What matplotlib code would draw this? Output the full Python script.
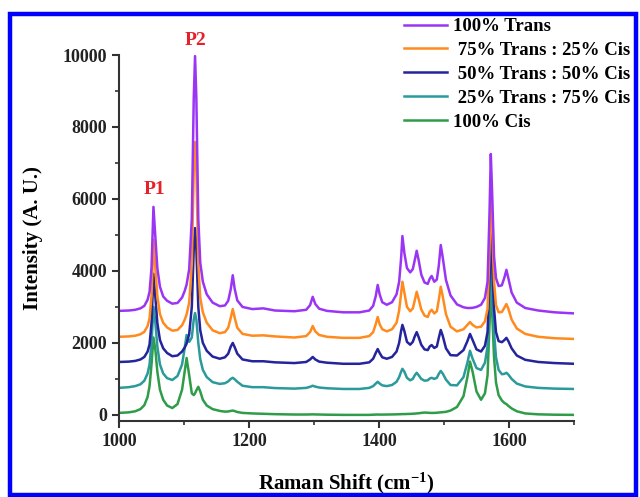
import numpy as np
import matplotlib.pyplot as plt
from matplotlib.patches import Rectangle
from matplotlib.ticker import MultipleLocator

# raman shift grid (cm-1)
shift = [1000, 1015, 1025, 1033, 1039, 1044, 1047, 1050, 1053, 1056,
         1059, 1063, 1068, 1074, 1082, 1090, 1097, 1101, 1104, 1108,
         1112, 1115, 1117, 1119, 1122, 1125, 1129, 1135, 1144, 1155,
         1163, 1168, 1172, 1175, 1178, 1182, 1190, 1205, 1222, 1240,
         1270, 1288, 1294, 1298, 1302, 1308, 1320, 1345, 1370, 1385,
         1391, 1395, 1398, 1401, 1405, 1412, 1420, 1427, 1431, 1434,
         1436, 1439, 1443, 1448, 1452, 1455, 1458, 1461, 1465, 1470,
         1475, 1478, 1481, 1485, 1489, 1492, 1495, 1498, 1503, 1510,
         1520, 1530, 1536, 1540, 1544, 1550, 1557, 1563, 1567, 1570,
         1572, 1574, 1577, 1580, 1584, 1589, 1593, 1596, 1599, 1604,
         1612, 1625, 1645, 1670, 1700]

trans100 = [2890, 2900, 2920, 2960, 3030, 3200, 3420, 4080, 5780, 4920,
            4080, 3560, 3290, 3170, 3090, 3110, 3260, 3440, 3620, 4050,
            5450, 8800, 9970, 8800, 5450, 4230, 3700, 3350, 3120, 3020,
            3040, 3170, 3500, 3880, 3500, 3180, 3000, 2940, 2960, 2900,
            2880, 2920, 3050, 3280, 3080, 2950, 2890, 2850, 2850, 2900,
            3030, 3300, 3610, 3350, 3130, 3060, 3130, 3350, 3700, 4350,
            4970, 4500, 4080, 3960, 4050, 4300, 4560, 4300, 3900, 3680,
            3640, 3780, 3860, 3700, 3760, 4150, 4720, 4380, 3750, 3320,
            3070, 2990, 2970, 2970, 2975, 3000, 3060, 3250, 3700, 5600,
            7250, 6200, 4400, 3800, 3580, 3600, 3820, 4030, 3800, 3400,
            3120, 2970, 2900, 2850, 2820]

trans75 = [2170, 2180, 2200, 2240, 2310, 2470, 2680, 3300, 4860, 4050,
           3300, 2800, 2560, 2430, 2340, 2360, 2490, 2640, 2790, 3120,
           4200, 6800, 7580, 6800, 4200, 3250, 2850, 2560, 2350, 2270,
           2300, 2420, 2700, 2940, 2700, 2420, 2250, 2200, 2210, 2180,
           2150, 2190, 2300, 2470, 2320, 2220, 2170, 2140, 2140, 2190,
           2300, 2520, 2720, 2520, 2380, 2320, 2380, 2560, 2900, 3380,
           3700, 3400, 3000, 2880, 2960, 3180, 3420, 3220, 2930, 2760,
           2720, 2860, 2920, 2820, 2880, 3200, 3560, 3300, 2800, 2450,
           2320, 2380, 2500, 2580, 2500, 2430, 2450, 2600, 2950, 4600,
           6200, 5300, 3700, 3050, 2850, 2860, 2980, 3080, 2950, 2650,
           2400, 2250, 2170, 2130, 2110]

trans50 = [1470, 1480, 1500, 1540, 1610, 1760, 1960, 2550, 3920, 3250,
           2550, 2080, 1850, 1720, 1630, 1650, 1760, 1870, 1980, 2250,
           3000, 4600, 5190, 4600, 3000, 2350, 2000, 1780, 1620, 1560,
           1600, 1700, 1900, 2000, 1880, 1700, 1540, 1490, 1490, 1460,
           1440, 1470, 1540, 1610, 1540, 1480, 1450, 1420, 1420, 1460,
           1560, 1720, 1830, 1720, 1600, 1560, 1610, 1760, 2000, 2330,
           2500, 2330, 2030, 1950, 2030, 2180, 2300, 2160, 1950, 1820,
           1800, 1900, 1940, 1860, 1900, 2140, 2360, 2200, 1850, 1660,
           1650, 1800, 2050, 2250, 2080, 1820, 1760, 1920, 2300, 3800,
           5050, 4300, 2950, 2300, 2050, 2020, 2080, 2140, 2050, 1850,
           1650, 1530, 1470, 1440, 1420]

trans25 = [750, 770, 800, 850, 950, 1150, 1400, 2000, 3000, 2550,
           1900, 1400, 1150, 1020, 970, 1080, 1400, 1850, 2220, 2030,
           2150, 2650, 2830, 2650, 2000, 1550, 1250, 1050, 910, 860,
           880, 930, 1000, 1030, 990, 920, 810, 770, 770, 745,
           730, 750, 780, 810, 785, 760, 740, 720, 720, 750,
           800, 870, 920, 870, 820, 800, 830, 920, 1050, 1200,
           1280, 1200, 1030, 960, 1000, 1100, 1170, 1100, 1000, 950,
           960, 1010, 1030, 1000, 1030, 1140, 1220, 1150, 980, 830,
           820, 1050, 1450, 1780, 1560, 1300, 1250, 1450, 1900, 3200,
           4100, 3500, 2300, 1600, 1250, 1130, 1140, 1170, 1120, 1000,
           870, 790, 750, 730, 720]

cis100 = [55, 70, 100, 160, 270, 500, 800, 1400, 2150, 1800,
          1200, 700, 420, 260, 190, 300, 700, 1200, 1580, 1100,
          600, 550, 600, 680, 780, 650, 420, 260, 160, 110,
          90, 95, 110, 120, 105, 80, 55, 40, 30, 20,
          10, 10, 12, 15, 12, 10, 5, 0, 0, 0,
          5, 8, 10, 8, 8, 10, 12, 15, 18, 20,
          22, 22, 25, 28, 32, 35, 40, 45, 55, 65,
          60, 55, 55, 55, 60, 65, 70, 75, 85, 120,
          220, 520, 1050, 1480, 1200, 650, 420, 600, 1100, 2500,
          3500, 2900, 1600, 900, 550, 400, 330, 300, 250, 180,
          100, 40, 15, 5, 0]

series = [trans100, trans75, trans50, trans25, cis100]
labels = ["100% Trans", " 75% Trans : 25% Cis", " 50% Trans : 50% Cis",
          " 25% Trans : 75% Cis", "100% Cis"]
colors = ["#9B35F5", "#FF8A1E", "#24249C", "#2A9A9A", "#2E9C48"]

plt.rcParams['font.family'] = ['Liberation Serif', 'DejaVu Serif']
plt.rcParams['font.weight'] = 'bold'
plt.rcParams['mathtext.fontset'] = 'custom'
plt.rcParams['mathtext.rm'] = 'Liberation Serif:bold'
plt.rcParams['mathtext.bf'] = 'Liberation Serif:bold'
plt.rcParams['mathtext.it'] = 'Liberation Serif:bold:italic'

fig = plt.figure(figsize=(6.4, 4.97), dpi=100)
ax = fig.add_axes([119/640, 1-421/497, 455/640, 366/497])

# bottom trace first so the upper ones sit on top
for y, lab, c in reversed(list(zip(series, labels, colors))):
    ax.plot(shift, y, color=c, lw=1.8, label=lab)

ax.set_xlim(1000, 1700)
ax.set_ylim(-170, 10000)
ax.xaxis.set_major_locator(MultipleLocator(200))
ax.xaxis.set_minor_locator(MultipleLocator(100))
ax.yaxis.set_major_locator(MultipleLocator(2000))
ax.yaxis.set_minor_locator(MultipleLocator(1000))
ax.spines['top'].set_visible(False)
ax.spines['right'].set_visible(False)
for s in ['left', 'bottom']:
    ax.spines[s].set_linewidth(1.5)
    ax.spines[s].set_color('#333333')
ax.tick_params(which='major', length=5, width=1.5, labelsize=13, direction='out', colors='#333333')
ax.tick_params(which='minor', length=3, width=1.2, direction='out', colors='#333333')
for t in ax.get_xticklabels() + ax.get_yticklabels():
    t.set_fontweight('bold')
    t.set_color('#222222')

ax.set_xlabel("Raman Shift (cm$^{\\mathbf{-1}}$)", fontsize=15, fontweight='bold', labelpad=15)
ax.set_ylabel("Intensity (A. U.)", fontsize=15, fontweight='bold', labelpad=14)

ax.text(1055, 6250, "P1", color='#E8202A', fontsize=14, fontweight='bold', ha='center', va='center')
ax.text(1117, 10400, "P2", color='#E8202A', fontsize=14, fontweight='bold', ha='center', va='center',
        clip_on=False)

h, l = ax.get_legend_handles_labels()
fig.legend(h[::-1], l[::-1], loc='upper left', bbox_to_anchor=(404/640, 1-18/497),
           frameon=False, handlelength=2.3, handletextpad=0.3,
           labelspacing=0.36, borderpad=0, borderaxespad=0,
           prop={'weight': 'bold', 'size': 13.5})

# blue frame round the whole picture
fig.patches.append(Rectangle((10/640, 2/497), 626/640, 481/497, transform=fig.transFigure,
                             fill=False, edgecolor='#0000FF', lw=3.2))

fig.savefig("out.png", dpi=100)
